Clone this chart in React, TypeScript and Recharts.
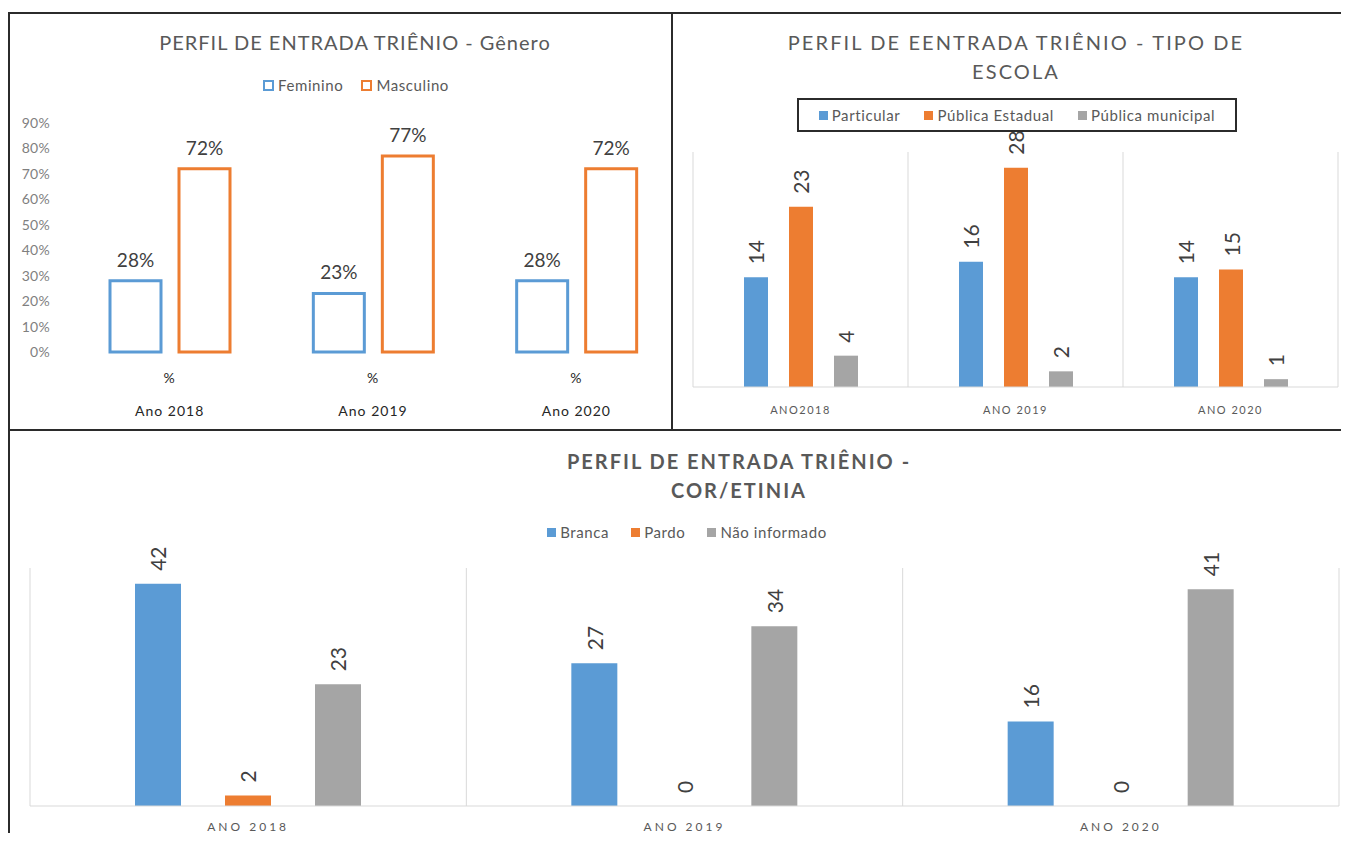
import React from 'react';
import { BarChart, Bar, XAxis, YAxis, CartesianGrid, LabelList, Legend } from 'recharts';

// Gênero (%)
const generoAnos = ['Ano 2018', 'Ano 2019', 'Ano 2020'];
const generoSubLabel = '%';
const femininoPct = [28, 23, 28];
const masculinoPct = [72, 77, 72];
const pctTicks = [0, 10, 20, 30, 40, 50, 60, 70, 80, 90];

// Tipo de escola
const escolaAnos = ['ANO2018', 'ANO 2019', 'ANO 2020'];
const particular = [14, 16, 14];
const publicaEstadual = [23, 28, 15];
const publicaMunicipal = [4, 2, 1];
const escolaMax = 30;

// Cor / etnia
const corAnos = ['ANO 2018', 'ANO 2019', 'ANO 2020'];
const branca = [42, 27, 16];
const pardo = [2, 0, 0];
const naoInformado = [23, 34, 41];
const corMax = 45;

const FONT = 'Lato, "Noto Sans", sans-serif';
const TEXT_GRAY = '#595959';
const LABEL_COLOR = '#404040';
const BLUE = '#5B9BD5';
const ORANGE = '#ED7D31';
const GRAY = '#A5A5A5';
const GRID = '#D9D9D9';
const FRAME = '#2b2b2b';

const generoData = generoAnos.map((ano, i) => ({
  ano,
  feminino: femininoPct[i],
  masculino: masculinoPct[i],
}));

const escolaData = escolaAnos.map((ano, i) => ({
  ano,
  particular: particular[i],
  estadual: publicaEstadual[i],
  municipal: publicaMunicipal[i],
}));

const corData = corAnos.map((ano, i) => ({
  ano,
  branca: branca[i],
  pardo: pardo[i],
  naoInformado: naoInformado[i],
}));

// vertical lines on the category borders (Excel style)
const bandEdges = (n: number) => (args: any) => {
  const off = args.offset;
  return Array.from({ length: n + 1 }, (_, i) => off.left + (off.width * i) / n);
};

// keep zero bars alive so their "0" label still shows
const zeroKeep = (v: any) => (Number(v) === 0 ? 0.01 : 0);

const GeneroTick = (props: any) => {
  const { x, y, payload } = props;
  return (
    <g fontFamily={FONT} fill="#262626" fontSize={14} letterSpacing={1}>
      <text x={x} y={y} dy={17} textAnchor="middle" dominantBaseline="central">
        {generoSubLabel}
      </text>
      <text x={x} y={y} dy={50} textAnchor="middle" dominantBaseline="central">
        {payload.value}
      </text>
    </g>
  );
};

const spacedTick = (dy: number, size: number, spacing: number) => (props: any) => {
  const { x, y, payload } = props;
  return (
    <text
      x={x}
      y={y}
      dy={dy}
      textAnchor="middle"
      dominantBaseline="central"
      fontFamily={FONT}
      fontSize={size}
      letterSpacing={spacing}
      fill={TEXT_GRAY}
    >
      {payload.value}
    </text>
  );
};

const RotatedLabel = (props: any) => {
  const { x, y, width, value } = props;
  const cx = Number(x) + Number(width) / 2;
  const cy = Number(y) - 13;
  return (
    <text
      x={cx}
      y={cy}
      transform={`rotate(-90, ${cx}, ${cy})`}
      textAnchor="start"
      dominantBaseline="central"
      fontFamily={FONT}
      fontSize={21}
      fill={LABEL_COLOR}
    >
      {String(value)}
    </text>
  );
};

const makeLegend =
  (hollow: boolean, gap: number, boxed: boolean, order: string[]) => (props: any) => {
    const items = [...(props.payload || [])].sort(
      (a: any, b: any) => order.indexOf(a.dataKey) - order.indexOf(b.dataKey)
    );
    return (
      <div
        style={{
          display: 'flex',
          justifyContent: 'center',
          alignItems: 'center',
          height: '100%',
          boxSizing: 'border-box',
          border: boxed ? `2px solid ${FRAME}` : 'none',
          background: boxed ? '#fff' : 'transparent',
          fontFamily: FONT,
          fontSize: 15,
          letterSpacing: 0.6,
          color: TEXT_GRAY,
        }}
      >
        {items.map((entry: any, i: number) => {
          const color = hollow ? entry.payload?.stroke ?? entry.color : entry.color;
          return (
            <span
              key={i}
              style={{ display: 'flex', alignItems: 'center', marginLeft: i === 0 ? 0 : gap }}
            >
              <span
                style={{
                  display: 'inline-block',
                  width: hollow ? 7 : 9,
                  height: hollow ? 7 : 9,
                  border: hollow ? `2px solid ${color}` : 'none',
                  background: hollow ? '#fff' : color,
                  marginRight: 4,
                }}
              />
              {entry.value}
            </span>
          );
        })}
      </div>
    );
  };

const titleStyle = (cx: number, top: number, extra: React.CSSProperties): React.CSSProperties => ({
  position: 'absolute',
  left: cx - 350,
  top,
  width: 700,
  textAlign: 'center',
  fontFamily: FONT,
  color: TEXT_GRAY,
  lineHeight: '29px',
  whiteSpace: 'nowrap',
  ...extra,
});

export default function App() {
  return (
    <div
      style={{
        position: 'relative',
        margin: -8,
        width: 1349,
        height: 841,
        overflow: 'hidden',
        background: '#fff',
        fontFamily: FONT,
      }}
    >
      {/* Gênero */}
      <div style={{ position: 'absolute', left: 0, top: 0 }}>
        <BarChart
          width={700}
          height={430}
          data={generoData}
          margin={{ top: 123, right: 22, bottom: 0, left: 0 }}
          barSize={51}
          barGap={18}
        >
          <XAxis
            dataKey="ano"
            axisLine={false}
            tickLine={false}
            height={78}
            interval={0}
            tick={GeneroTick}
          />
          <YAxis
            width={68}
            domain={[0, 90]}
            ticks={pctTicks}
            interval={0}
            axisLine={false}
            tickLine={false}
            tickMargin={12}
            tickFormatter={(v: number) => `${v}%`}
            tick={{ fill: '#7f7f7f', fontSize: 14, fontFamily: FONT, letterSpacing: 0.3 }}
          />
          <Legend
            verticalAlign="middle"
            align="center"
            wrapperStyle={{ top: 76, left: 0, width: 712, height: 18 }}
            content={makeLegend(true, 18, false, ['feminino', 'masculino'])}
          />
          <Bar
            dataKey="feminino"
            name="Feminino"
            fill="#ffffff"
            stroke={BLUE}
            strokeWidth={3}
            isAnimationActive={false}
          >
            <LabelList
              dataKey="feminino"
              position="top"
              offset={14}
              formatter={(v: any) => `${v}%`}
              style={{ fontSize: 19, fill: LABEL_COLOR, fontFamily: FONT }}
            />
          </Bar>
          <Bar
            dataKey="masculino"
            name="Masculino"
            fill="#ffffff"
            stroke={ORANGE}
            strokeWidth={3}
            isAnimationActive={false}
          >
            <LabelList
              dataKey="masculino"
              position="top"
              offset={14}
              formatter={(v: any) => `${v}%`}
              style={{ fontSize: 19, fill: LABEL_COLOR, fontFamily: FONT }}
            />
          </Bar>
        </BarChart>
      </div>
      <div style={titleStyle(355, 28, { fontSize: 20, letterSpacing: 1 })}>
        PERFIL DE ENTRADA TRIÊNIO - Gênero
      </div>

      {/* Tipo de escola */}
      <div style={{ position: 'absolute', left: 672, top: 13 }}>
        <BarChart
          width={677}
          height={417}
          data={escolaData}
          margin={{ top: 139, right: 11, bottom: 0, left: 21 }}
          barSize={24}
          barGap={21}
        >
          <CartesianGrid
            vertical
            horizontal={false}
            stroke={GRID}
            verticalCoordinatesGenerator={bandEdges(escolaAnos.length)}
          />
          <XAxis
            dataKey="ano"
            axisLine={{ stroke: GRID }}
            tickLine={false}
            height={43}
            interval={0}
            tick={spacedTick(14, 11, 1.5)}
          />
          <YAxis hide domain={[0, escolaMax]} />
          <Legend
            verticalAlign="middle"
            align="center"
            wrapperStyle={{ top: 85, left: 125, width: 440, height: 34 }}
            content={makeLegend(false, 24, true, ['particular', 'estadual', 'municipal'])}
          />
          <Bar dataKey="particular" name="Particular" fill={BLUE} isAnimationActive={false}>
            <LabelList dataKey="particular" content={RotatedLabel} />
          </Bar>
          <Bar dataKey="estadual" name="Pública Estadual" fill={ORANGE} isAnimationActive={false}>
            <LabelList dataKey="estadual" content={RotatedLabel} />
          </Bar>
          <Bar dataKey="municipal" name="Pública municipal" fill={GRAY} isAnimationActive={false}>
            <LabelList dataKey="municipal" content={RotatedLabel} />
          </Bar>
        </BarChart>
      </div>
      <div style={titleStyle(1016, 28, { fontSize: 20, letterSpacing: 2.1 })}>
        PERFIL DE EENTRADA TRIÊNIO - TIPO DE
        <br />
        ESCOLA
      </div>

      {/* Cor / etnia */}
      <div style={{ position: 'absolute', left: 9, top: 430 }}>
        <BarChart
          width={1340}
          height={411}
          data={corData}
          margin={{ top: 138, right: 10, bottom: 0, left: 21 }}
          barSize={46}
          barGap={44}
        >
          <CartesianGrid
            vertical
            horizontal={false}
            stroke={GRID}
            verticalCoordinatesGenerator={bandEdges(corAnos.length)}
          />
          <XAxis
            dataKey="ano"
            axisLine={{ stroke: GRID }}
            tickLine={false}
            height={35}
            interval={0}
            tick={spacedTick(12, 12, 3)}
          />
          <YAxis hide domain={[0, corMax]} />
          <Legend
            verticalAlign="middle"
            align="center"
            wrapperStyle={{ top: 93, left: 478, width: 400, height: 18 }}
            content={makeLegend(false, 22, false, ['branca', 'pardo', 'naoInformado'])}
          />
          <Bar
            dataKey="branca"
            name="Branca"
            fill={BLUE}
            minPointSize={zeroKeep}
            isAnimationActive={false}
          >
            <LabelList dataKey="branca" content={RotatedLabel} />
          </Bar>
          <Bar
            dataKey="pardo"
            name="Pardo"
            fill={ORANGE}
            minPointSize={zeroKeep}
            isAnimationActive={false}
          >
            <LabelList dataKey="pardo" content={RotatedLabel} />
          </Bar>
          <Bar
            dataKey="naoInformado"
            name="Não informado"
            fill={GRAY}
            minPointSize={zeroKeep}
            isAnimationActive={false}
          >
            <LabelList dataKey="naoInformado" content={RotatedLabel} />
          </Bar>
        </BarChart>
      </div>
      <div style={titleStyle(739, 447, { fontSize: 20, letterSpacing: 2, fontWeight: 700 })}>
        PERFIL DE ENTRADA TRIÊNIO -
        <br />
        COR/ETINIA
      </div>

      {/* frame lines */}
      <div style={{ position: 'absolute', left: 8, top: 12, width: 1341, height: 2, background: FRAME }} />
      <div style={{ position: 'absolute', left: 8, top: 12, width: 2, height: 829, background: FRAME }} />
      <div style={{ position: 'absolute', left: 671, top: 12, width: 2, height: 419, background: FRAME }} />
      <div style={{ position: 'absolute', left: 8, top: 429, width: 1341, height: 2, background: FRAME }} />
    </div>
  );
}
